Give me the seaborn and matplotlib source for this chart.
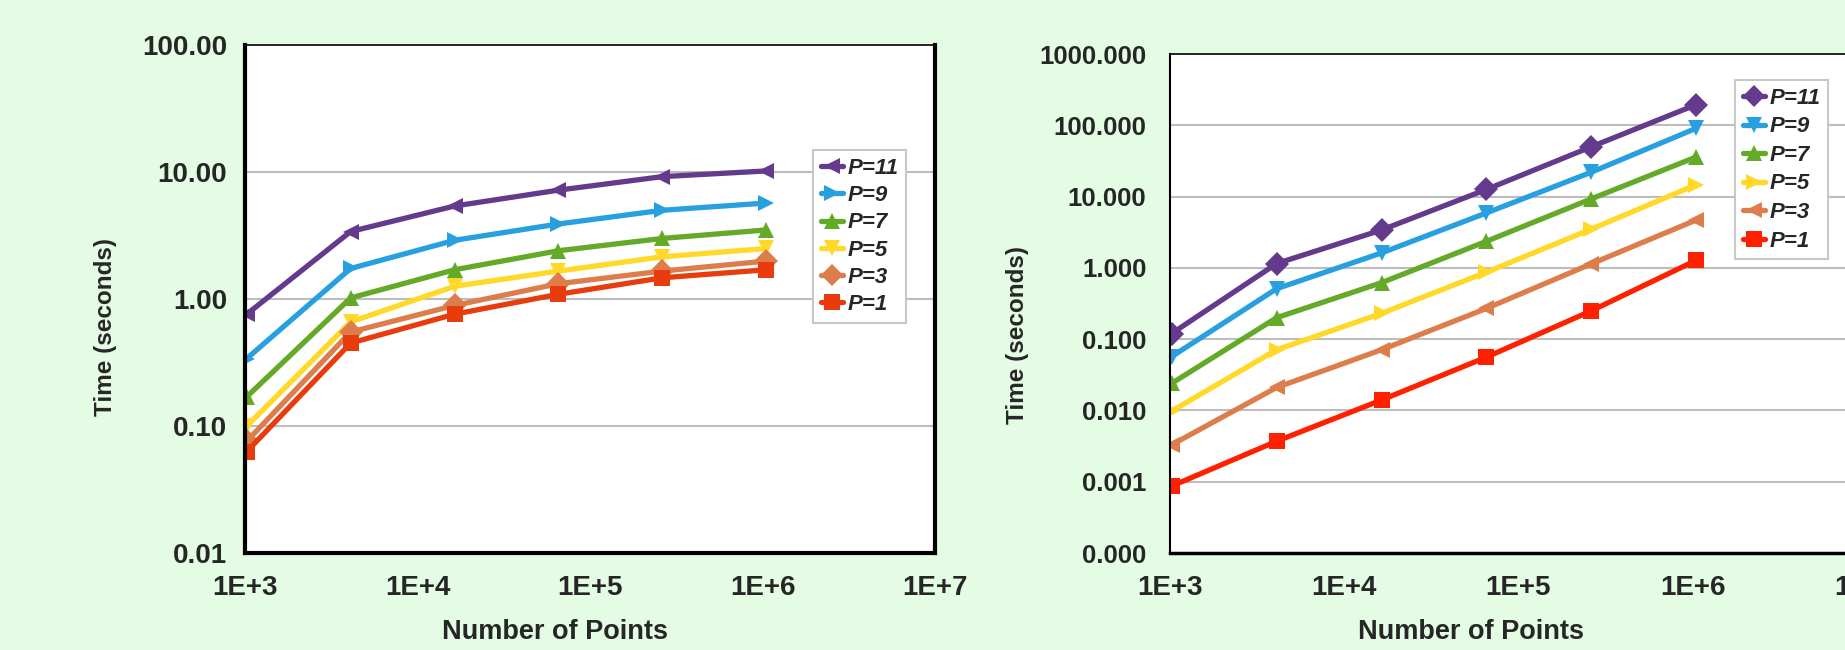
import numpy as np
import pandas as pd
import matplotlib
matplotlib.use("Agg")
import matplotlib.pyplot as plt
from matplotlib.ticker import FixedLocator, FuncFormatter, NullLocator
import seaborn as sns

sns.set_theme(style="white")
plt.rcParams['font.family'] = ['Liberation Sans', 'DejaVu Sans']
plt.rcParams['font.weight'] = 'bold'

# number of points (4^k * 1024)
points = [1024, 4096, 16384, 65536, 262144, 1048576]
p_order = ["P=11", "P=9", "P=7", "P=5", "P=3", "P=1"]

# left chart (seconds)
left_times = {
    "P=11": [0.76, 3.4, 5.4, 7.2, 9.2, 10.2],
    "P=9":  [0.34, 1.74, 2.9, 3.9, 5.0, 5.7],
    "P=7":  [0.17, 1.02, 1.7, 2.4, 3.0, 3.5],
    "P=5":  [0.10, 0.66, 1.26, 1.66, 2.15, 2.5],
    "P=3":  [0.076, 0.55, 0.89, 1.32, 1.66, 1.99],
    "P=1":  [0.063, 0.45, 0.76, 1.09, 1.47, 1.70],
}
# right chart (seconds)
right_times = {
    "P=11": [0.12, 1.15, 3.4, 12.6, 50, 195],
    "P=9":  [0.057, 0.51, 1.62, 5.9, 22, 91],
    "P=7":  [0.024, 0.20, 0.62, 2.36, 9.3, 36],
    "P=5":  [0.0098, 0.071, 0.23, 0.87, 3.5, 14.7],
    "P=3":  [0.0033, 0.021, 0.071, 0.27, 1.14, 4.7],
    "P=1":  [0.00087, 0.0037, 0.014, 0.056, 0.25, 1.28],
}

left_colors = ["#643A8C", "#28A0E0", "#64AA28", "#FFD828", "#DC7D4B", "#E83C0C"]
right_colors = ["#643A8C", "#28A0E0", "#64AA28", "#FFD828", "#DC7D4B", "#FF2000"]
left_markers = ["<", ">", "^", "v", "D", "s"]
right_markers = ["D", "v", "^", ">", "<", "s"]

bg = "#E4FCE4"


def to_long(times):
    rows = []
    for p in p_order:
        for n, t in zip(points, times[p]):
            rows.append({"n": n, "t": t, "P": p})
    return pd.DataFrame(rows)


def draw(ax, times, colors, markers, yticks, fmt, legend_xy, ysize, spacing):
    df = to_long(times)
    sns.lineplot(data=df, x="n", y="t", hue="P", style="P",
                 hue_order=p_order, style_order=p_order,
                 palette=dict(zip(p_order, colors)),
                 markers=dict(zip(p_order, markers)), dashes=False,
                 linewidth=3.8, markersize=12, markeredgewidth=0,
                 ax=ax, legend=True)
    ax.set_xscale("log")
    ax.set_yscale("log")
    ax.set_xlim(1e3, 1e7)
    ax.set_ylim(yticks[0], yticks[-1])
    ax.set_facecolor("white")
    ax.xaxis.set_major_locator(FixedLocator([1e3, 1e4, 1e5, 1e6, 1e7]))
    ax.xaxis.set_minor_locator(NullLocator())
    ax.yaxis.set_major_locator(FixedLocator(yticks))
    ax.yaxis.set_minor_locator(NullLocator())
    ax.xaxis.set_major_formatter(FuncFormatter(lambda v, _: f"1E+{int(round(np.log10(v)))}"))
    ax.yaxis.set_major_formatter(FuncFormatter(lambda v, _: fmt.format(v)))
    for v in yticks[1:-1]:
        ax.axhline(v, color="#BDBDBD", lw=1.5, zorder=0)
    ax.set_xlabel("Number of Points", fontsize=19.5, fontweight="bold")
    ax.set_ylabel("Time (seconds)", fontsize=17.5, fontweight="bold")
    ax.tick_params(axis="both", direction="out", length=7, width=2.5, pad=6)
    ax.tick_params(axis="x", labelsize=20, pad=9)
    ax.tick_params(axis="y", labelsize=ysize)
    for lab in ax.get_xticklabels() + ax.get_yticklabels():
        lab.set_fontweight("bold")
    leg = ax.legend(loc="upper left", bbox_to_anchor=legend_xy, frameon=True,
                    fancybox=False, edgecolor="#C8C8C8", framealpha=1,
                    prop={"weight": "bold", "style": "italic", "size": 16},
                    handlelength=1.0, handletextpad=0.2, labelspacing=spacing,
                    borderpad=0.35, borderaxespad=0)
    leg.get_frame().set_linewidth(1.5)
    for h in leg.get_lines():
        h.set_linewidth(3.8)
        h.set_markersize(11)
    return ax


fig = plt.figure(figsize=(18.45, 6.5), dpi=100, facecolor=bg)

ax1 = fig.add_axes([0.1328, 0.1492, 0.374, 0.7815])
draw(ax1, left_times, left_colors, left_markers,
     [0.01, 0.1, 1, 10, 100], "{:.2f}", (0.823, 0.793), 20, 0.28)
for side in ["left", "bottom", "right"]:
    ax1.spines[side].set_linewidth(3)
    ax1.spines[side].set_color("black")
ax1.spines["top"].set_linewidth(1.2)
ax1.spines["top"].set_color("black")
ax1.xaxis.set_label_coords(0.449, -0.130)
ax1.yaxis.set_label_coords(-0.186, 0.445)

ax2 = fig.add_axes([0.6341, 0.1492, 0.3778, 0.7677])
draw(ax2, right_times, right_colors, right_markers,
     [0.0001, 0.001, 0.01, 0.1, 1, 10, 100, 1000], "{:.3f}", (0.811, 0.948), 18.5, 0.34)
ax2.spines["left"].set_linewidth(1.5)
ax2.spines["bottom"].set_linewidth(2.5)
ax2.spines["top"].set_linewidth(1.2)
for side in ["left", "bottom", "top", "right"]:
    ax2.spines[side].set_color("black")
ax2.tick_params(axis="y", color="#BDBDBD", length=9, width=1.5, pad=8)
ax2.tick_params(axis="x", width=2)
ax2.xaxis.set_label_coords(0.432, -0.132)
ax2.yaxis.set_label_coords(-0.2025, 0.437)

fig.savefig("out.png", dpi=100, facecolor=bg)
